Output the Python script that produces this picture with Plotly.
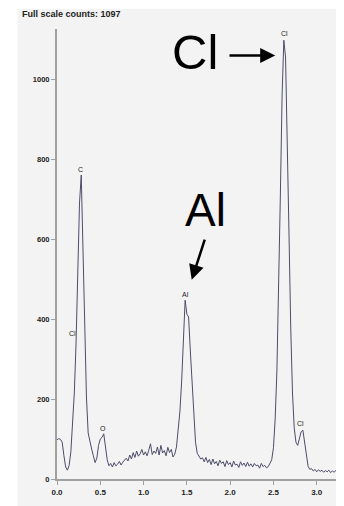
import plotly.graph_objects as go

# EDS spectrum: counts per 0.02 keV channel, 0.00 .. 3.30 keV
channel_width_kev = 0.02
counts = [
    98, 101, 99, 92, 58, 30, 22, 34, 68, 135,
    215, 340, 490, 690, 760, 570, 370, 205, 115, 92,
    75, 58, 41, 52, 84, 100, 104, 113, 82, 48,
    33, 39, 30, 41, 33, 37, 44, 35, 42, 47,
    52, 45, 60, 50, 66, 54, 70, 57, 63, 74,
    60, 68, 58, 72, 88, 61, 70, 64, 80, 60,
    84, 65, 71, 58, 79, 66, 74, 55, 62, 80,
    118, 170, 245, 350, 447, 412, 405, 320, 235, 150,
    92, 64, 56, 50, 53, 43, 54, 41, 49, 36,
    50, 38, 44, 33, 47, 39, 43, 31, 46, 36,
    41, 30, 45, 35, 37, 29, 43, 34, 40, 31,
    42, 32, 38, 30, 39, 33, 35, 27, 39, 31,
    34, 28, 31, 38, 48, 78, 150, 270, 460, 710,
    960, 1097, 1055, 870, 610, 375, 215, 128, 92, 84,
    104, 118, 122, 92, 55, 32, 24, 26, 20, 24,
    18, 23, 19, 22, 17, 21, 18, 22, 16, 20,
    17, 21, 15, 19, 16, 18,
]
energy = [round(i * channel_width_kev, 2) for i in range(len(counts))]

# Peak labels (element, energy keV, label height in counts)
peak_names = ["Cl", "C", "Cl", "O", "Al", "Cl"]
peak_x = [2.633, 0.271, 0.179, 0.536, 1.481, 2.817]
peak_y = [1114, 774, 364, 127, 462, 139]

x_ticks = [0.0, 0.5, 1.0, 1.5, 2.0, 2.5, 3.0]
y_ticks = [0, 200, 400, 600, 800, 1000]
title_text = "Full scale counts: 1097"

# the page body adds an 8 px offset to the figure
W, H = 344, 498
ml, mr, mt, mb = 48.5, 8, 21, 27
pw, ph = W - ml - mr, H - mt - mb
OFF = 8

def px_to_paper_x(px):  # px in window coordinates
    return (px - OFF - ml) / pw

def px_to_paper_y(py):
    return (H - mb - (py - OFF)) / ph

fig = go.Figure()
fig.add_trace(go.Scatter(
    x=energy, y=counts, mode="lines",
    line=dict(color="#4d4d6b", width=1),
    hoverinfo="skip", showlegend=False,
))

# gray panel
fig.add_shape(type="rect", xref="paper", yref="paper",
              x0=px_to_paper_x(17), x1=px_to_paper_x(360),
              y0=px_to_paper_y(512), y1=px_to_paper_y(9),
              fillcolor="#f3f3f3", line=dict(width=0), layer="below")

ann = []
for n, x, y in zip(peak_names, peak_x, peak_y):
    ann.append(dict(x=x, y=y, xref="x", yref="y", text=n, showarrow=False,
                    font=dict(family="Liberation Sans, Arial", size=7, color="#222")))

ann.append(dict(x=px_to_paper_x(19), y=px_to_paper_y(14), xref="paper", yref="paper",
                xanchor="left", yanchor="middle", text="<b>" + title_text + "</b>",
                showarrow=False, font=dict(family="Liberation Sans, Arial", size=9, color="#222")))

# big labels with arrows
ann.append(dict(x=1.597, y=1067, xref="x", yref="y", text="Cl", showarrow=False,
                font=dict(family="Liberation Sans, Arial", size=49, color="#000")))
ann.append(dict(x=2.52, y=1059, ax=1.975, ay=1059, xref="x", yref="y", axref="x", ayref="y",
                text="", showarrow=True, arrowhead=2, arrowwidth=2.5, arrowsize=1.2,
                arrowcolor="#000"))
ann.append(dict(x=1.712, y=672, xref="x", yref="y", text="Al", showarrow=False,
                font=dict(family="Liberation Sans, Arial", size=46, color="#000")))
ann.append(dict(x=1.556, y=498, ax=1.712, ay=602, xref="x", yref="y", axref="x", ayref="y",
                text="", showarrow=True, arrowhead=2, arrowwidth=2.5, arrowsize=1.2,
                arrowcolor="#000"))

fig.update_layout(
    width=W, height=H,
    margin=dict(l=ml, r=mr, t=mt, b=mb, pad=0, autoexpand=False),
    paper_bgcolor="white", plot_bgcolor="rgba(0,0,0,0)",
    annotations=ann,
    xaxis=dict(range=[0, 3.315], tickvals=x_ticks, ticktext=[f"{v:.1f}" for v in x_ticks],
               showgrid=False, zeroline=False, showline=True, linecolor="#a0a0a0", linewidth=2,
               ticks="outside", ticklen=4, tickcolor="#a0a0a0", tickwidth=1, automargin=False,
               tickfont=dict(family="Liberation Sans, Arial", size=8, color="#222", weight="bold")),
    yaxis=dict(range=[0, 1125], tickvals=y_ticks, showgrid=False, zeroline=False,
               showline=True, linecolor="#a0a0a0", linewidth=2, automargin=False,
               ticks="outside", ticklen=4, tickcolor="#a0a0a0", tickwidth=1,
               tickfont=dict(family="Liberation Sans, Arial", size=7.5, color="#222", weight="bold")),
)

fig.write_html("out.html")
